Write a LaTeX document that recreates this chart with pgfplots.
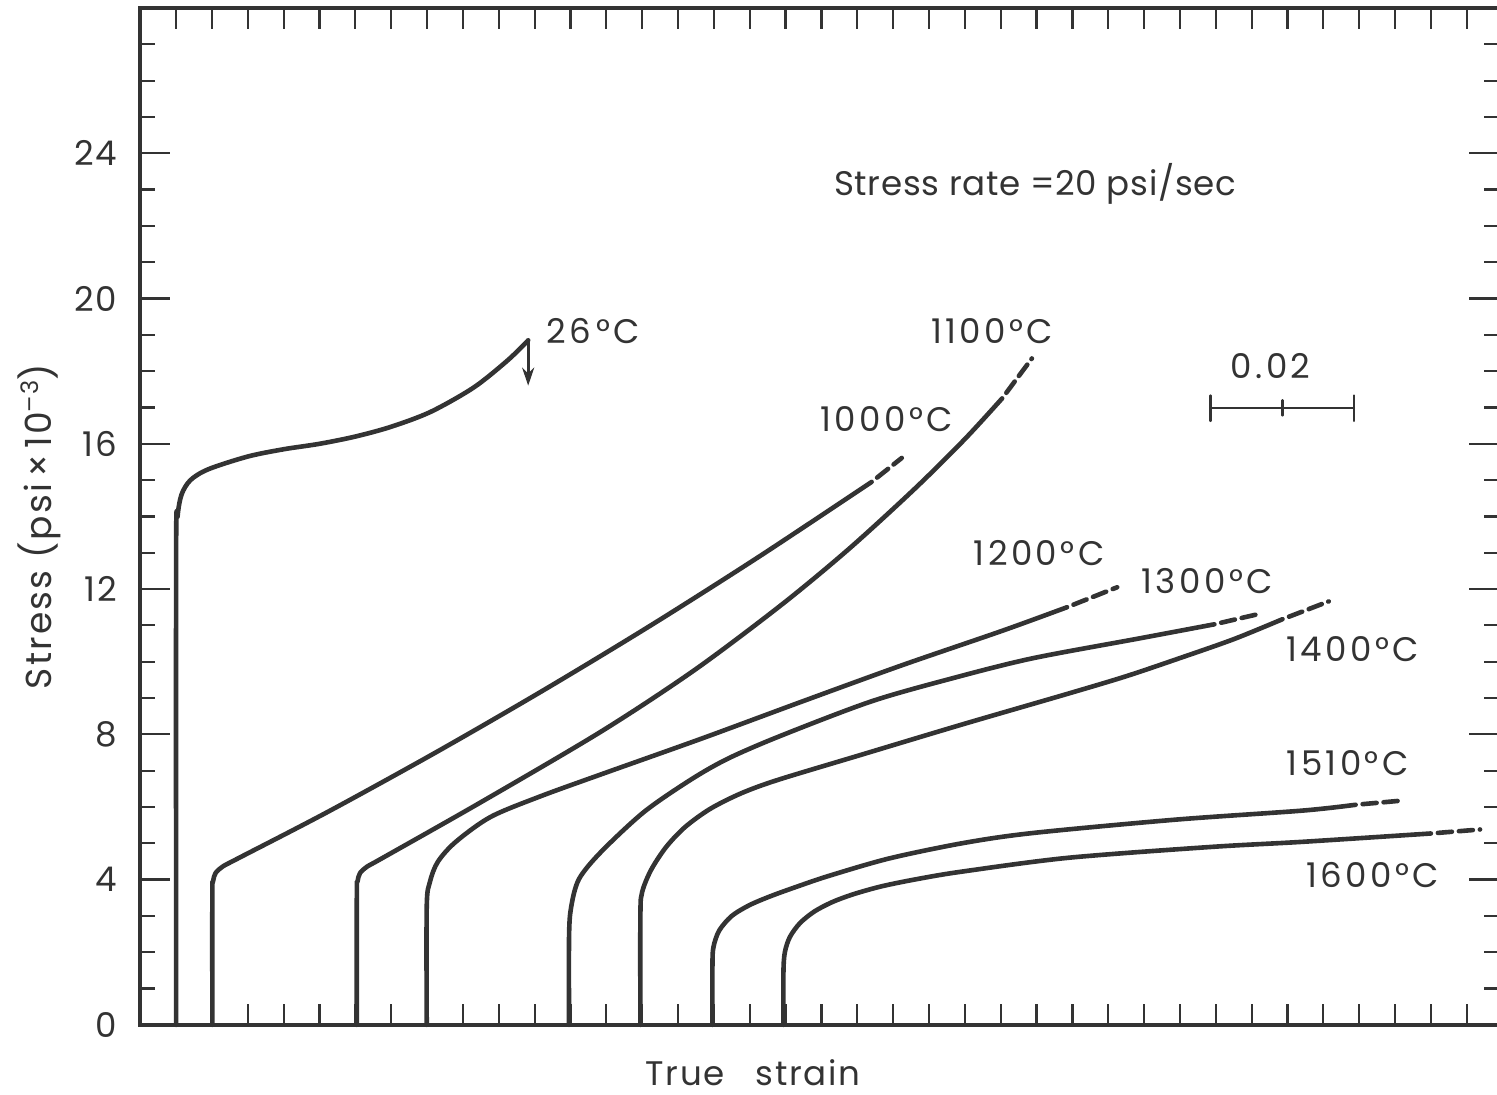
\documentclass[border=0pt]{standalone}
\usepackage{fontspec}
\setmainfont{Poppins}
\usepackage{pgfplots}
\pgfplotsset{compat=1.18}
\usetikzlibrary{arrows.meta}
\definecolor{ink}{gray}{0.2}
\newcommand{\lbl}{\fontsize{17}{20}\selectfont}
\newcommand{\clbl}{\fontsize{17}{20}\selectfont\addfontfeatures{LetterSpace=10}}

\begin{document}
\begin{tikzpicture}
\begin{axis}[
  scale only axis, width=678pt, height=507.4pt,
  xmin=0, xmax=37.9, ymin=0, ymax=28,
  axis line style={ink, line width=2pt},
  tick align=inside,
  tick style={ink, line width=1.1pt},
  major tick length=15pt, minor tick length=7.5pt,
  xtick=\empty,
  extra x ticks={1,...,37},
  extra x tick labels={},
  extra x tick style={major tick length=10.5pt},
  ytick={0,4,...,24},
  minor ytick={1,...,27},
  yticklabel style={font=\lbl\addfontfeatures{LetterSpace=5}, text=ink, xshift=-8pt},
  /pgf/number format/assume math mode=true,
  ylabel={Stress (psi\,×\,10\raisebox{0.7ex}{\fontsize{12}{12}\selectfont –3})},
  ylabel style={at={(axis description cs:-0.074,0.49)}, anchor=center, inner sep=0pt, font=\fontsize{18}{20}\selectfont\addfontfeatures{LetterSpace=6}, text=ink},
  xlabel={True\hspace{0.9em}strain},
  xlabel style={at={(axis description cs:0.451,-0.0475)}, anchor=center, inner sep=0pt, font=\lbl\addfontfeatures{LetterSpace=5}, text=ink},
  clip=false,
  every axis plot/.append style={ink, line width=2.3pt, line cap=round, line join=round},
]
\coordinate (SW) at (rel axis cs:0,0);
\coordinate (NE) at (rel axis cs:1,1);

% 26 C
\addplot[smooth] coordinates {(1.0,0) (1.0,13.0) (1.04,14.0) (1.15,14.6) (1.4,15.0) (1.9,15.3) (3.0,15.65) (4.0,15.85) (5.0,16.0) (6.0,16.2) (7.0,16.47) (8.1,16.88) (9.3,17.55) (10.25,18.3) (10.82,18.85)};
\addplot[line width=1.6pt, -{Stealth[length=9pt,width=6pt]}] coordinates {(10.82,18.85) (10.82,17.6)};

% 1000 C
\addplot[smooth] coordinates {(2.01,0) (2.01,3.6) (2.03,3.95) (2.1,4.18) (2.3,4.36) (2.7,4.57) (5.24,5.87) (8.24,7.50) (11.24,9.21) (14.24,11.00) (17.24,12.88) (20.40,14.95)};
\addplot[dash pattern=on 7pt off 3.5pt, dash phase=7pt] coordinates {(20.40,14.95) (21.24,15.61)};

% 1100 C
\addplot[smooth] coordinates {(6.04,0) (6.04,3.6) (6.06,3.95) (6.13,4.18) (6.33,4.36) (6.73,4.58) (9.50,6.13) (12.86,8.08) (15.46,9.77) (17.89,11.57) (19.76,13.10) (21.60,14.76) (23.00,16.13) (24.04,17.25)};
\addplot[dash pattern=on 7pt off 3.5pt, dash phase=7pt] coordinates {(24.04,17.25) (24.87,18.35)};

% 1200 C
\addplot[smooth] coordinates {(7.99,0) (7.99,3.25) (8.08,3.94) (8.30,4.49) (8.80,5.04) (9.78,5.73) (11.18,6.30) (12.86,6.90) (15.65,7.88) (18.45,8.90) (21.24,9.90) (24.04,10.85) (25.85,11.50)};
\addplot[dash pattern=on 7pt off 3.5pt, dash phase=7pt] coordinates {(25.85,11.50) (27.25,12.05)};

% 1300 C
\addplot[smooth] coordinates {(11.96,0) (11.96,2.42) (12.02,3.25) (12.24,4.02) (12.86,4.77) (14.06,5.87) (15.37,6.76) (16.41,7.34) (17.89,7.97) (20.40,8.91) (22.64,9.54) (24.87,10.09) (27.86,10.64) (29.96,11.03)};
\addplot[dash pattern=on 7pt off 3.5pt, dash phase=7pt] coordinates {(29.96,11.03) (31.27,11.33)};

% 1400 C
\addplot[smooth] coordinates {(13.95,0) (13.95,3.03) (14.00,3.66) (14.25,4.27) (14.67,4.90) (15.2,5.45) (15.9,5.95) (16.77,6.38) (17.80,6.75) (20.12,7.44) (22.92,8.27) (25.88,9.12) (27.5,9.6) (29.0,10.1) (30.5,10.62) (31.86,11.17)};
\addplot[dash pattern=on 7pt off 3.5pt, dash phase=7pt] coordinates {(31.86,11.17) (33.15,11.66)};

% 1510 C
\addplot[smooth] coordinates {(15.96,0) (15.96,1.65) (15.99,2.15) (16.15,2.6) (16.5,3.0) (17.0,3.3) (17.6,3.55) (18.3,3.8) (19.2,4.1) (20.88,4.58) (22.92,5.0) (24.87,5.28) (28.87,5.65) (32.42,5.90) (33.90,6.06)};
\addplot[dash pattern=on 7pt off 3.5pt, dash phase=7pt] coordinates {(33.90,6.06) (35.13,6.17)};

% 1600 C
\addplot[smooth] coordinates {(17.94,0) (17.94,1.45) (17.98,2.0) (18.12,2.42) (18.4,2.8) (18.8,3.12) (19.3,3.38) (19.9,3.6) (20.7,3.82) (21.7,4.02) (22.92,4.22) (25.88,4.6) (29.88,4.9) (32.42,5.04) (36.00,5.27)};
\addplot[dash pattern=on 7pt off 3.5pt, dash phase=7pt] coordinates {(36.00,5.27) (37.37,5.38)};

% scale bar
\addplot[line width=1.2pt] coordinates {(29.85,16.99) (33.85,16.99)};
\addplot[line width=1.2pt] coordinates {(29.85,16.63) (29.85,17.33)};
\addplot[line width=1.2pt] coordinates {(33.85,16.63) (33.85,17.33)};
\addplot[line width=1.2pt] coordinates {(31.86,16.78) (31.86,17.2)};

\node[font=\clbl, text=ink] at (axis cs:12.63,19.1) {26\,°C};
\node[font=\clbl, text=ink] at (axis cs:20.82,16.68) {1000°C};
\node[font=\clbl, text=ink] at (axis cs:23.76,19.1) {1100°C};
\node[font=\clbl, text=ink] at (axis cs:25.07,12.98) {1200°C};
\node[font=\clbl, text=ink] at (axis cs:29.76,12.21) {1300°C};
\node[font=\clbl, text=ink] at (axis cs:33.82,10.34) {1400°C};
\node[font=\clbl, text=ink] at (axis cs:33.68,7.2) {1510°C};
\node[font=\clbl, text=ink] at (axis cs:34.38,4.13) {1600°C};
\node[font=\lbl\addfontfeatures{LetterSpace=2}, text=ink] at (axis cs:24.96,23.17) {Stress rate =20 psi/sec};
\node[font=\clbl, text=ink] at (axis cs:31.53,18.14) {0.02};
\end{axis}
\pgfresetboundingbox
\path[use as bounding box] ([shift={(-70pt,-35pt)}]SW) rectangle ([shift={(-1pt,4pt)}]NE);
\end{tikzpicture}
\end{document}
